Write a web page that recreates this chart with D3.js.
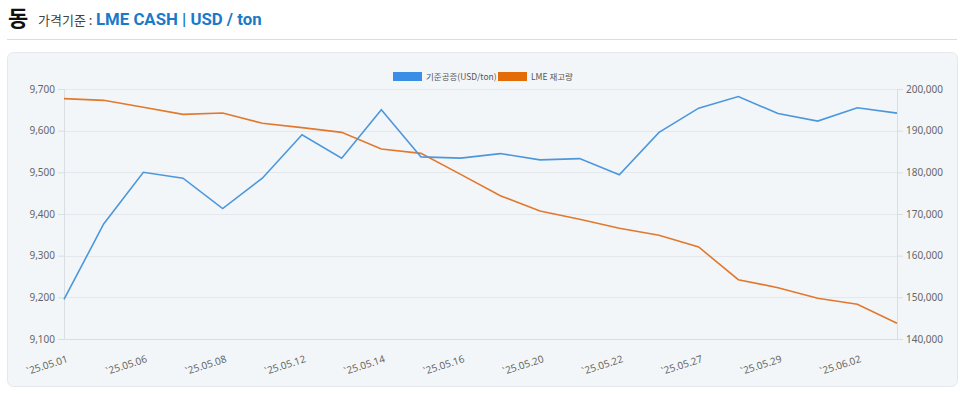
<!DOCTYPE html>
<html>
<head>
<meta charset="utf-8">
<script src="https://cdn.jsdelivr.net/npm/d3@7"></script>
<style>
  body { margin: 0; background: #fff; font-family: 'Noto Sans CJK KR', 'Noto Sans', sans-serif; }
</style>
</head>
<body>
<div id="root"></div>
<script>
'use strict';

const dates = ['25.05.01', '25.05.02', '25.05.06', '25.05.07', '25.05.08', '25.05.09',
               '25.05.12', '25.05.13', '25.05.14', '25.05.15', '25.05.16', '25.05.19',
               '25.05.20', '25.05.21', '25.05.22', '25.05.23', '25.05.27', '25.05.28',
               '25.05.29', '25.05.30', '25.06.02', '25.06.03'];
const cashPrice = [9195, 9376, 9500, 9486, 9413, 9486, 9590, 9534, 9650, 9537, 9534,
                   9545, 9530, 9533, 9494, 9596, 9654, 9682, 9641, 9623, 9655, 9642];
const lmeStock = [197680, 197280, 195600, 193920, 194240, 191760, 190720, 189600, 185600,
                  184560, 179520, 174400, 170720, 168720, 166560, 164900, 162080, 154240,
                  152320, 149760, 148320, 143760];
const leftTicks = [9100, 9200, 9300, 9400, 9500, 9600, 9700];
const rightTicks = [140000, 150000, 160000, 170000, 180000, 190000, 200000];
const legendNames = ['기준공증(USD/ton)', 'LME 재고량'];

const Root = document.querySelector('#root');

function draw() {
  const w = 960, h = 395,
        left = 64, right = 897, top = 89, bottom = 339,
        blue = '#4c97dc', orange = '#e2782c',
        fmt = d3.format(',');

  const svg = d3.select(Root).append('svg')
                .attr('width', w)
                .attr('height', h);

  // header
  const head = svg.append('text').attr('y', 26);
  head.append('tspan').attr('x', 8).attr('font-size', 22).attr('font-weight', 700).attr('fill', '#111').text('동');
  head.append('tspan').attr('x', 38).attr('dy', -1).attr('font-size', 13).attr('fill', '#444').text('가격기준 :');
  head.append('tspan').attr('x', 96).attr('font-family', 'Roboto, sans-serif')
      .attr('font-size', 16.8).attr('font-weight', 700).attr('fill', '#1a7ac8')
      .text('LME CASH | USD / ton');

  svg.append('line')
     .attr('x1', 7).attr('x2', 957).attr('y1', 39.5).attr('y2', 39.5)
     .attr('stroke', '#dcdcdc');

  svg.append('rect')
     .attr('x', 7.5).attr('y', 52.5).attr('width', 950).attr('height', 334)
     .attr('rx', 6)
     .attr('fill', '#f3f6f9').attr('stroke', '#e4e8ec');

  const x = d3.scalePoint().domain(dates).range([left, right]),
        yL = d3.scaleLinear().domain([9100, 9700]).range([bottom, top]),
        yR = d3.scaleLinear().domain([140000, 200000]).range([bottom, top]);

  // grid
  svg.append('g').selectAll('line')
     .data(leftTicks.slice(1))
     .enter().append('line')
     .attr('x1', left).attr('x2', right)
     .attr('y1', (d) => Math.round(yL(d)) + 0.5).attr('y2', (d) => Math.round(yL(d)) + 0.5)
     .attr('stroke', '#e4e7eb');

  const yAxisL = d3.axisLeft(yL).tickValues(leftTicks).tickFormat(fmt).tickSize(6).tickPadding(3),
        yAxisR = d3.axisRight(yR).tickValues(rightTicks).tickFormat(fmt).tickSize(6).tickPadding(3),
        xAxis = d3.axisBottom(x).tickValues(dates.filter((d, i) => i % 2 === 0))
                  .tickFormat((d) => '`' + d).tickSize(0);

  const gL = svg.append('g').attr('transform', 'translate(' + left + ',0)').call(yAxisL);
  const gR = svg.append('g').attr('transform', 'translate(' + right + ',0)').call(yAxisR);
  const gX = svg.append('g').attr('transform', 'translate(0,' + bottom + ')').call(xAxis);

  [gL, gR, gX].forEach((g) => {
    g.selectAll('path, line').attr('stroke', '#dadee3');
    g.selectAll('text').attr('fill', '#666').attr('font-size', 10)
     .attr('font-family', "'Noto Sans', sans-serif");
  });

  gX.selectAll('text')
    .attr('text-anchor', 'end')
    .attr('dy', 0)
    .attr('transform', 'translate(3,20) rotate(-18)');

  // lines
  const lineL = d3.line().x((d, i) => x(dates[i])).y((d) => yL(d)),
        lineR = d3.line().x((d, i) => x(dates[i])).y((d) => yR(d));

  svg.append('path').datum(lmeStock)
     .attr('d', lineR).attr('fill', 'none')
     .attr('stroke', orange).attr('stroke-width', 1.6);

  svg.append('path').datum(cashPrice)
     .attr('d', lineL).attr('fill', 'none')
     .attr('stroke', blue).attr('stroke-width', 1.6);

  // legend
  const legend = svg.append('g').attr('transform', 'translate(393,72)');
  const colors = ['#3a8ee6', '#e36c09'], offs = [0, 105];
  legendNames.forEach((n, i) => {
    legend.append('rect').attr('x', offs[i]).attr('y', 0).attr('width', 29).attr('height', 9)
          .attr('fill', colors[i]);
    legend.append('text').attr('x', offs[i] + 33).attr('y', 8)
          .attr('font-size', 8.5).attr('fill', '#555').text(n);
  });
}

draw();
</script>
</body>
</html>
